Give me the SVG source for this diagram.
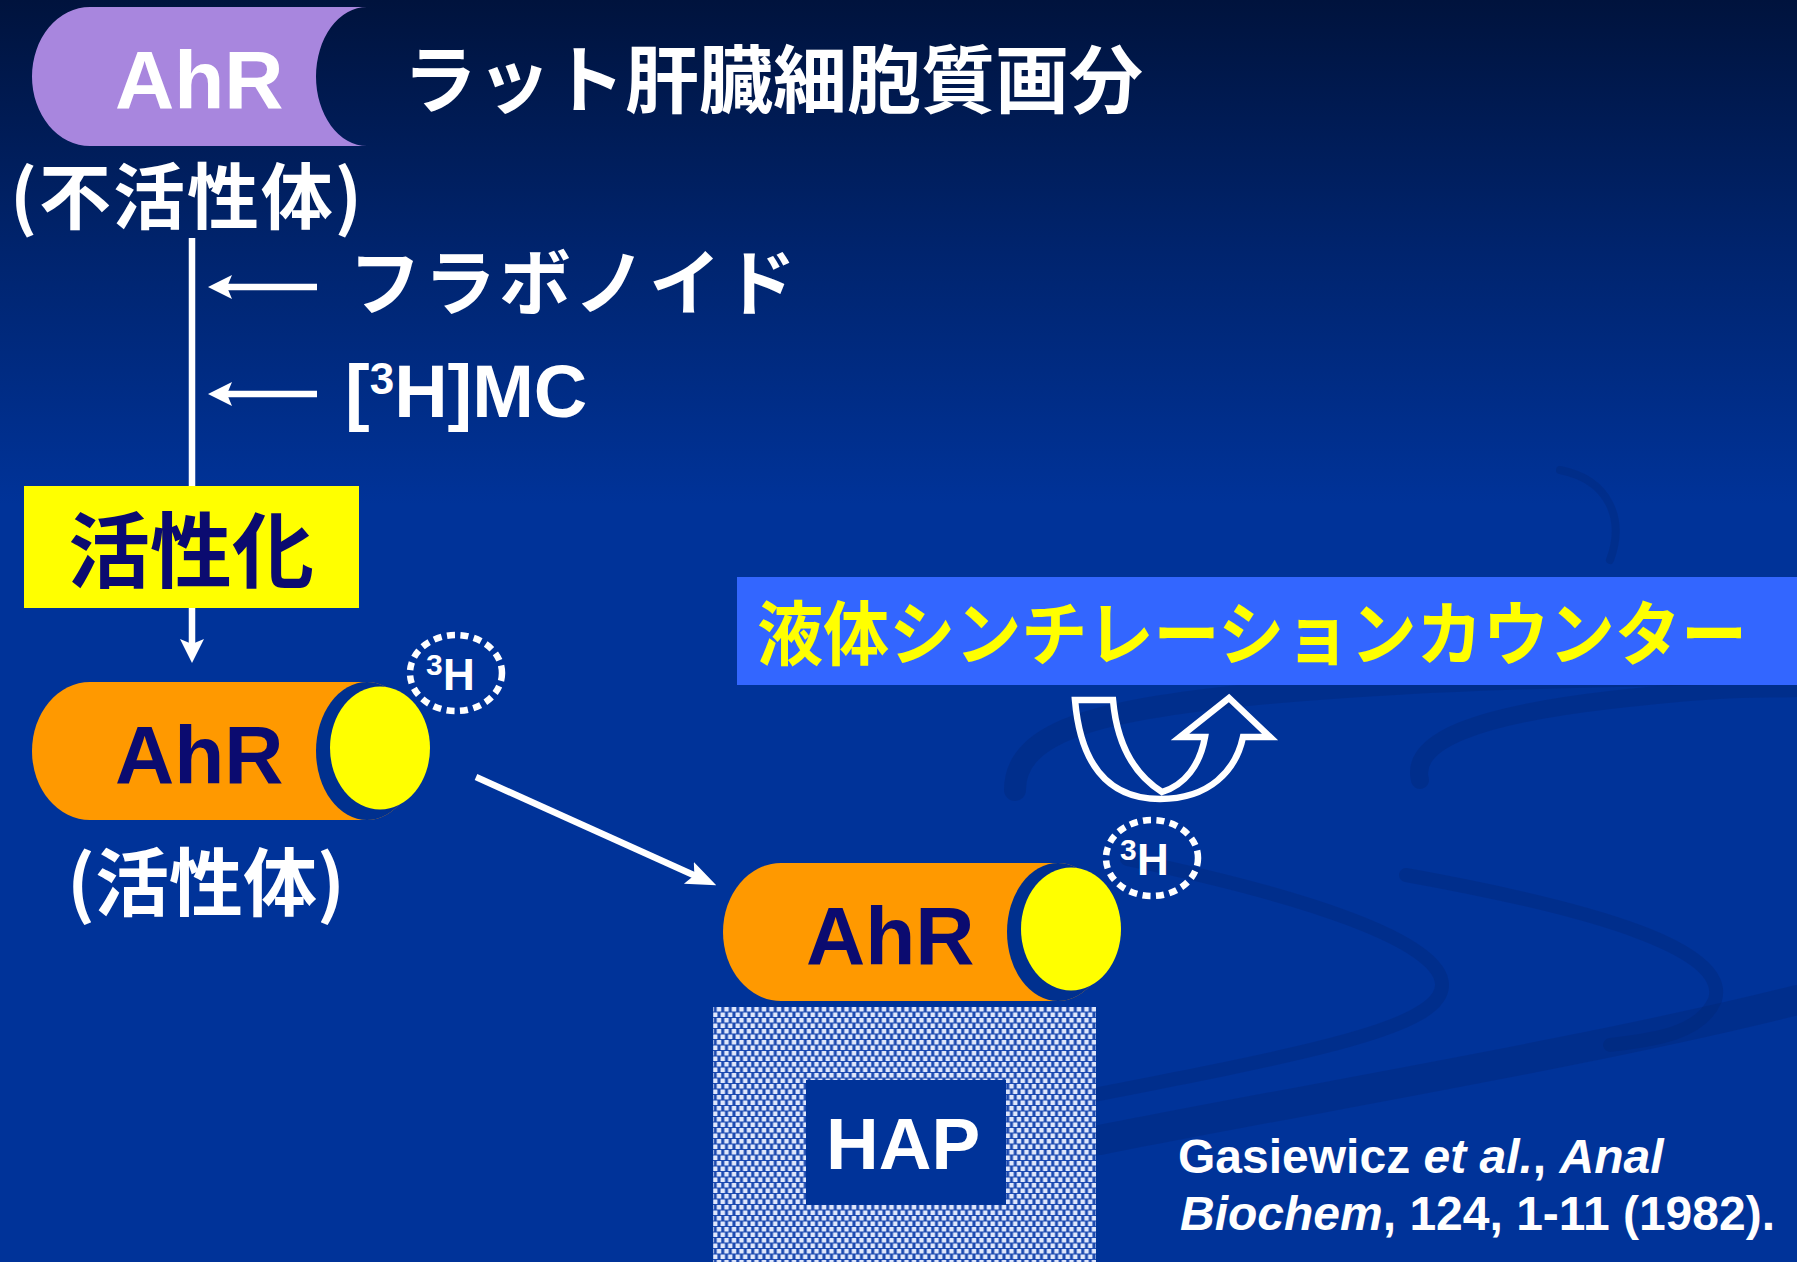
<svg xmlns="http://www.w3.org/2000/svg" width="1797" height="1262" viewBox="0 0 1797 1262">
  <defs>
    <linearGradient id="bg" x1="0" y1="0" x2="0" y2="1">
      <stop offset="0" stop-color="#00133d"/>
      <stop offset="0.2" stop-color="#00246e"/>
      <stop offset="0.4" stop-color="#003399"/>
      <stop offset="1" stop-color="#003399"/>
    </linearGradient>
    <pattern id="dots" width="7.5" height="11" patternUnits="userSpaceOnUse">
      <rect width="7.5" height="11" fill="#1b49b0"/>
      <rect x="0.5" y="0.5" width="4.5" height="4.5" fill="#dfe7fc"/>
      <rect x="4.25" y="6" width="4.5" height="4.5" fill="#dfe7fc"/>
      <rect x="-3.25" y="6" width="4.5" height="4.5" fill="#dfe7fc"/>
    </pattern>
    <marker id="arr" markerUnits="userSpaceOnUse" markerWidth="26" markerHeight="26" refX="8" refY="12" orient="auto">
      <path d="M0,0 L24,12 L0,24 L5,12 Z" fill="#ffffff"/>
    </marker>
    <marker id="arrL" markerUnits="userSpaceOnUse" markerWidth="32" markerHeight="28" refX="10" refY="12" orient="auto">
      <path d="M0,0 L30,12 L0,24 L6,12 Z" fill="#ffffff"/>
    </marker>
    <style>
      .lat { font-family: "Liberation Sans", Arial, sans-serif; font-weight: bold; }
      .jp { font-family: "Noto Sans CJK JP", "Noto Sans CJK SC", sans-serif; font-weight: bold; }
      .w { fill: #ffffff; }
      .navy { fill: #0b0b70; }
      .conn { stroke: #ffffff; stroke-width: 6.5; fill: none; }
      .swirl { fill: none; stroke: #00256f; stroke-opacity: 0.3; stroke-linecap: round; }
      .ring { fill: none; stroke: #ffffff; stroke-width: 6.5; stroke-dasharray: 8 5.5; }
    </style>
  </defs>

  <rect width="1797" height="1262" fill="url(#bg)"/>

  <g id="swirls">
    <path class="swirl" stroke-width="22" d="M1015,790 C1015,730 1100,706 1305,690 S1700,676 1797,672"/>
    <path class="swirl" stroke-width="18" d="M1420,780 C1410,740 1480,715 1610,700 S1760,690 1797,688"/>
    <path class="swirl" stroke-width="14" d="M1127,859 C1300,895 1440,940 1442,984 C1444,1030 1300,1055 1000,1113"/>
    <path class="swirl" stroke-width="14" d="M1406,875 C1600,910 1730,950 1715,1000 C1700,1035 1650,1040 1610,1045"/>
    <path class="swirl" stroke-width="30" d="M1797,1000 C1600,1050 1300,1100 1100,1140"/>
    <path class="swirl" stroke-width="8" stroke-opacity="0.18" d="M1560,470 C1610,480 1625,520 1610,560"/>
  </g>

  <g id="connectors">
    <line class="conn" x1="192" y1="238" x2="192" y2="647" marker-end="url(#arr)"/>
    <line class="conn" x1="317" y1="287" x2="224" y2="287" marker-end="url(#arr)"/>
    <line class="conn" x1="317" y1="394" x2="224" y2="394" marker-end="url(#arr)"/>
    <line class="conn" x1="476" y1="777" x2="698" y2="877" marker-end="url(#arrL)"/>
  </g>

  <g id="title">
    <text class="jp w" x="403" y="107" font-size="74">ラット肝臓細胞質画分</text>
  </g>

  <g id="ahr-inactive">
    <path d="M90,7 L367,7 A51,69.5 0 0 0 367,146 L90,146 A58,69.5 0 0 1 90,7 Z" fill="#a886de"/>
    <text class="lat w" x="115" y="108" font-size="82">AhR</text>
    <text class="jp w" x="10" y="223" font-size="72" textLength="352" lengthAdjust="spacing">(不活性体)</text>
  </g>

  <g id="ligands">
    <text class="jp w" x="349" y="309" font-size="72" letter-spacing="3">フラボノイド</text>
    <text class="lat w" x="345" y="417" font-size="74">[<tspan font-size="44" dy="-23">3</tspan><tspan dy="23">H]MC</tspan></text>
  </g>

  <g id="activation">
    <rect x="24" y="486" width="335" height="122" fill="#ffff00"/>
    <text class="jp navy" x="191" y="581" font-size="82" text-anchor="middle">活性化</text>
  </g>

  <g id="ahr-active">
    <path d="M90,682 L367,682 A51,69 0 0 1 367,820 L90,820 A58,69 0 0 1 90,682 Z" fill="#ff9900"/>
    <ellipse cx="367" cy="751" rx="51" ry="69" fill="#00308f"/>
    <ellipse cx="380" cy="748" rx="50" ry="61.5" fill="#ffff00"/>
    <text class="lat navy" x="115" y="783" font-size="82">AhR</text>
    <text class="jp w" x="67" y="910" font-size="74">(活性体)</text>
  </g>

  <g id="h3-a">
    <ellipse class="ring" cx="456" cy="673" rx="46" ry="38"/>
    <text class="lat w" x="426" y="675" font-size="30">3</text>
    <text class="lat w" x="443" y="690" font-size="44">H</text>
  </g>

  <g id="hap">
    <rect x="713" y="1007" width="383" height="255" fill="url(#dots)"/>
    <rect x="806" y="1080" width="200" height="125" fill="#003399"/>
    <text class="lat w" x="826" y="1169" font-size="73">HAP</text>
  </g>

  <g id="ahr-bound" transform="translate(691,181)">
    <path d="M90,682 L367,682 A51,69 0 0 1 367,820 L90,820 A58,69 0 0 1 90,682 Z" fill="#ff9900"/>
    <ellipse cx="367" cy="751" rx="51" ry="69" fill="#00308f"/>
    <ellipse cx="380" cy="748" rx="50" ry="61.5" fill="#ffff00"/>
    <text class="lat navy" x="115" y="783" font-size="82">AhR</text>
  </g>

  <g id="h3-b">
    <ellipse class="ring" cx="1152" cy="858" rx="46" ry="38"/>
    <text class="lat w" x="1120" y="860" font-size="30">3</text>
    <text class="lat w" x="1137" y="875" font-size="44">H</text>
  </g>

  <g id="uturn">
    <path d="M1075,700 C1080,760 1105,799 1160,799 C1210,799 1236,770 1243,737 L1270,737 L1229,698 L1180,737 L1205,737 C1200,765 1185,785 1162,792 C1135,775 1117,745 1113,700 Z" fill="none" stroke="#ffffff" stroke-width="6.5" stroke-linejoin="miter"/>
  </g>

  <g id="counter">
    <rect x="737" y="577" width="1060" height="108" fill="#3366ff"/>
    <text class="jp" x="757" y="660" font-size="70" fill="#ffff00" textLength="990" lengthAdjust="spacingAndGlyphs">液体シンチレーションカウンター</text>
  </g>

  <g id="citation">
    <text class="lat w" x="1178" y="1173" font-size="48">Gasiewicz <tspan font-style="italic">et al.</tspan>, <tspan font-style="italic">Anal</tspan></text>
    <text class="lat w" x="1180" y="1230" font-size="48"><tspan font-style="italic">Biochem</tspan>, 124, 1-11 (1982).</text>
  </g>
</svg>
